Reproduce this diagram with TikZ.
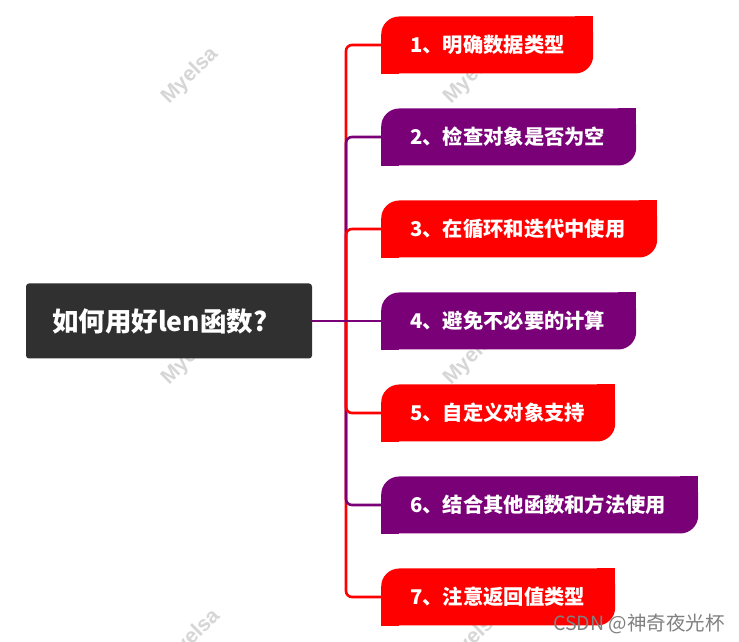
\documentclass[tikz,border=0pt]{standalone}
\usepackage{fontspec}
\newfontfamily\cjk{Noto Sans CJK SC}
\newfontfamily\wmfont{Liberation Sans}
\definecolor{rootgray}{HTML}{303030}
\definecolor{br}{HTML}{FF0000}
\definecolor{bp}{HTML}{7A0078}
\definecolor{wm}{HTML}{D6D6D6}
\definecolor{csdn}{HTML}{808080}
\tikzset{
  x=1pt, y=1pt,
  boxshape/.style={rounded corners=18pt, minimum height=57pt, inner sep=0pt, anchor=west, draw=none, fill=#1},
  lbl/.style={anchor=west, inner sep=0pt, text=white, font=\cjk\bfseries\fontsize{20.3}{24}\selectfont},
  conn/.style={line width=2.6pt, rounded corners=6pt, #1},
  wmark/.style={rotate=45, text=wm, font=\wmfont\bfseries\fontsize{21}{24}\selectfont, inner sep=0pt}
}
\newcommand{\sharpen}[2]{%
  \fill[#2] (#1.north east) rectangle ++(-18,-18);
  \fill[#2] (#1.south west) rectangle ++(18,18);}
\begin{document}
\begin{tikzpicture}
\useasboundingbox (0,0) rectangle (739,642);
\fill[white] (0,0) rectangle (739,642);
% watermarks
\node[wmark] (w1) at (190,566) {Myelsa};
\node[wmark] (w2) at (472,566) {Myelsa};
\node[wmark] (w3) at (190,285) {Myelsa};
\node[wmark] (w4) at (472,285) {Myelsa};
\node[wmark] (w5) at (192,4) {Myelsa};
\node[wmark] (w6) at (474,4) {Myelsa};
% root
\node[fill=rootgray, rounded corners=3pt, minimum width=286pt, minimum height=75pt, inner sep=0pt] (root) at (169,321) {};
\node[anchor=west, inner sep=0pt, text=white, font=\cjk\bfseries\fontsize{26.5}{30}\selectfont] (rt) at ([xshift=26pt]root.west) {如何用好len函数?};
\coordinate (J) at (346,321);
% boxes
\node[boxshape=br, minimum width=212pt] (b1) at (381,597) {};
\sharpen{b1}{br}
\node[lbl] (t1) at ([xshift=29pt]b1.west) {1、明确数据类型};
\node[boxshape=bp, minimum width=255pt] (b2) at (381,505) {};
\sharpen{b2}{bp}
\node[lbl] (t2) at ([xshift=29pt]b2.west) {2、检查对象是否为空};
\node[boxshape=br, minimum width=276pt] (b3) at (381,413) {};
\sharpen{b3}{br}
\node[lbl] (t3) at ([xshift=29pt]b3.west) {3、在循环和迭代中使用};
\node[boxshape=bp, minimum width=255pt] (b4) at (381,321) {};
\sharpen{b4}{bp}
\node[lbl] (t4) at ([xshift=29pt]b4.west) {4、避免不必要的计算};
\node[boxshape=br, minimum width=234pt] (b5) at (381,229) {};
\sharpen{b5}{br}
\node[lbl] (t5) at ([xshift=29pt]b5.west) {5、自定义对象支持};
\node[boxshape=bp, minimum width=317pt] (b6) at (381,137) {};
\sharpen{b6}{bp}
\node[lbl] (t6) at ([xshift=29pt]b6.west) {6、结合其他函数和方法使用};
\node[boxshape=br, minimum width=234pt] (b7) at (381,45) {};
\sharpen{b7}{br}
\node[lbl] (t7) at ([xshift=29pt]b7.west) {7、注意返回值类型};
% connectors (outermost first)
\draw[conn=br] (J) |- (b1.west);
\draw[conn=br] (J) |- (b7.west);
\draw[conn=bp] (J) |- (b2.west);
\draw[conn=bp] (J) |- (b6.west);
\draw[conn=br] (J) |- (b3.west);
\draw[conn=br] (J) |- (b5.west);
\draw[conn=bp] (J) -- (b4.west);
\draw[conn=bp] (root.east) -- (J);
% credit
\node[anchor=west, inner sep=0pt, text=csdn, font=\cjk\fontsize{19.5}{22}\selectfont] (csdn) at (553,18) {CSDN @神奇夜光杯};
\end{tikzpicture}
\end{document}
